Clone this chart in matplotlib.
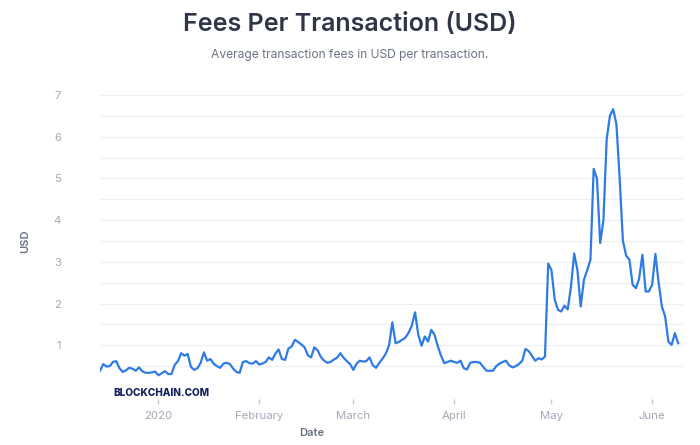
import numpy as np
import pandas as pd
import matplotlib
matplotlib.use("Agg")
import matplotlib.pyplot as plt

# dados (media diaria da taxa por transacao, USD)
start_date = "2019-12-14"
fees = [
    0.39, 0.55, 0.49, 0.50, 0.60, 0.62, 0.45, 0.36, 0.40, 0.46,
    0.44, 0.39, 0.47, 0.38, 0.34, 0.34, 0.35, 0.37, 0.28, 0.33,
    0.38, 0.31, 0.31, 0.53, 0.62, 0.81, 0.75, 0.79, 0.48, 0.41,
    0.45, 0.58, 0.83, 0.63, 0.67, 0.56, 0.50, 0.46, 0.56, 0.58,
    0.55, 0.44, 0.36, 0.34, 0.60, 0.62, 0.57, 0.56, 0.62, 0.54,
    0.56, 0.60, 0.71, 0.65, 0.80, 0.90, 0.67, 0.65, 0.92, 0.97,
    1.13, 1.08, 1.02, 0.95, 0.76, 0.71, 0.95, 0.88, 0.72, 0.63,
    0.58, 0.60, 0.66, 0.70, 0.81, 0.70, 0.62, 0.55, 0.41, 0.56,
    0.63, 0.61, 0.62, 0.71, 0.52, 0.46, 0.58, 0.68, 0.80, 1.00,
    1.55, 1.05, 1.08, 1.13, 1.18, 1.30, 1.47, 1.79, 1.25, 0.99,
    1.21, 1.09, 1.37, 1.25, 0.98, 0.75, 0.57, 0.60, 0.63, 0.60,
    0.58, 0.63, 0.45, 0.42, 0.58, 0.60, 0.60, 0.58, 0.48, 0.39,
    0.39, 0.39, 0.50, 0.56, 0.60, 0.63, 0.52, 0.47, 0.50, 0.55,
    0.63, 0.91, 0.86, 0.75, 0.63, 0.69, 0.66, 0.73, 2.96, 2.80,
    2.10, 1.85, 1.81, 1.95, 1.86, 2.40, 3.20, 2.80, 1.93, 2.57,
    2.80, 3.05, 5.23, 5.00, 3.45, 4.00, 5.94, 6.50, 6.66, 6.30,
    5.00, 3.50, 3.15, 3.05, 2.45, 2.37, 2.60, 3.17, 2.29, 2.29,
    2.45, 3.19, 2.50, 1.93, 1.69, 1.09, 1.01, 1.29, 1.05,
]
dates = pd.date_range(start_date, periods=len(fees), freq="D")

tick_dates = ["2020-01-01", "2020-02-01", "2020-03-01", "2020-04-01", "2020-05-01", "2020-06-01"]
tick_labels = ["2020", "February", "March", "April", "May", "June"]
y_ticks = [1, 2, 3, 4, 5, 6, 7]

plt.rcParams["font.family"] = ["Inter", "DejaVu Sans"]

fig = plt.figure(figsize=(7, 4.45), dpi=100)
ax = fig.add_axes([100 / 700, 1 - 387 / 445, 583 / 700, 292 / 445])

ax.plot(dates, fees, color="#2f7be6", linewidth=1.6, solid_joinstyle="round")

x0 = pd.Timestamp(start_date)
ax.set_xlim(x0, x0 + pd.Timedelta(days=179.5))
ax.set_ylim(0, 7)

# grade a cada 0.5, rotulos so nos inteiros
ax.set_yticks(np.arange(0, 7.01, 0.5), minor=True)
ax.set_yticks(y_ticks)
ax.set_yticklabels([str(v) for v in y_ticks])
ax.grid(True, axis="y", which="both", color="#eef0f4", linewidth=1)
ax.set_axisbelow(True)

ax.set_xticks(pd.to_datetime(tick_dates))
ax.set_xticklabels(tick_labels)

for s in ["top", "right", "left"]:
    ax.spines[s].set_visible(False)
ax.spines["bottom"].set_position(("outward", 8.6))
ax.spines["bottom"].set_color("none")

ax.tick_params(axis="x", direction="out", length=3.6, width=1, color="#c5cad3",
               labelcolor="#a3a9b7", labelsize=8.2, pad=5)
ax.tick_params(axis="y", which="major", length=0, labelcolor="#a3a9b7", labelsize=8.2, pad=28)
ax.tick_params(axis="y", which="minor", length=0)

fig.text(312 / 700, 1 - 433 / 445, "Date", ha="center", va="center",
         color="#6b7386", fontsize=8, fontweight="semibold")
fig.text(25 / 700, 1 - 241 / 445, "USD", ha="center", va="center", rotation=90,
         color="#6b7386", fontsize=8, fontweight="semibold")

fig.text(0.5, 1 - 25 / 445, "Fees Per Transaction (USD)", ha="center", va="center",
         fontsize=18, fontweight="semibold", color="#2f3747")
fig.text(0.5, 1 - 55 / 445, "Average transaction fees in USD per transaction.", ha="center",
         va="center", fontsize=8.7, color="#6b7386")
fig.text(113 / 700, 1 - 393 / 445, "BLOCKCHAIN.COM", ha="left", va="center",
         fontsize=7.2, fontweight="heavy", color="#13235f")

fig.savefig("out.png", dpi=100)
